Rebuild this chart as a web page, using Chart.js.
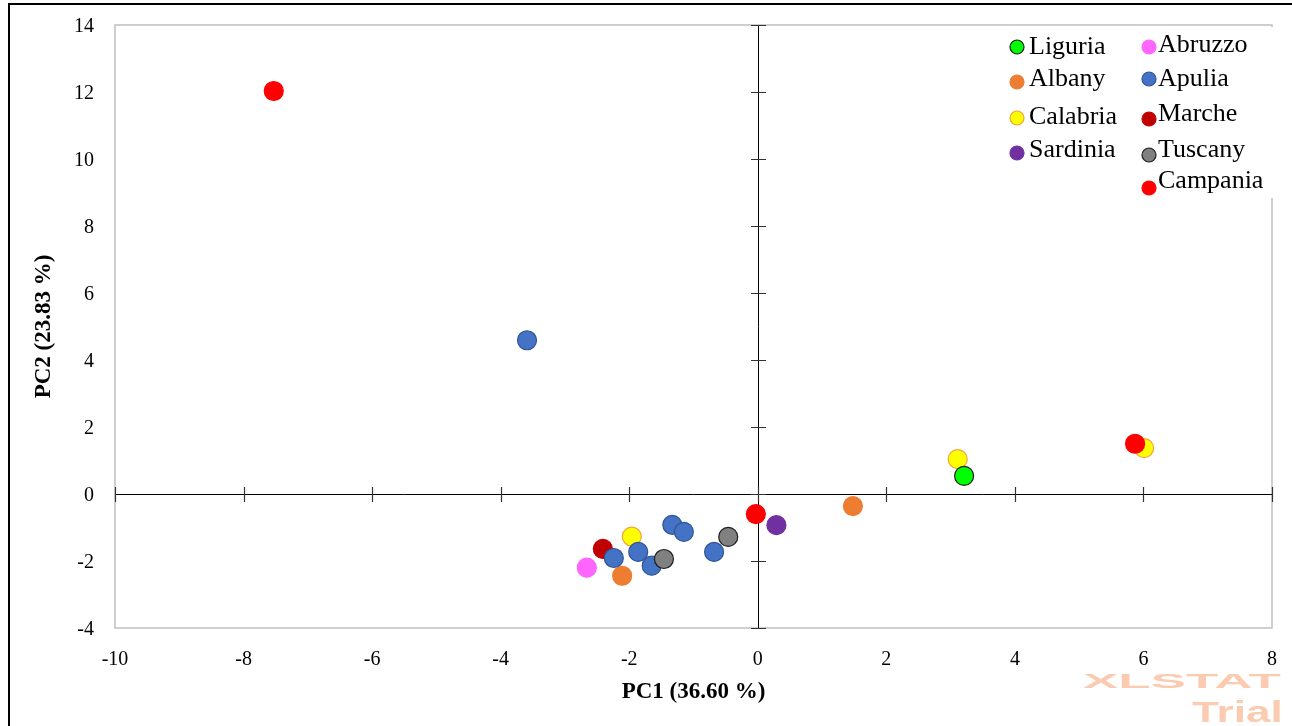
<!DOCTYPE html>
<html>
<head>
<meta charset="utf-8">
<script src="https://cdn.jsdelivr.net/npm/chart.js@4.4.1/dist/chart.umd.min.js"></script>
<style>
html,body{margin:0;padding:0;background:#fff;}
#wrap{position:relative;width:1292px;height:726px;}
</style>
</head>
<body>
<div id="wrap"><canvas id="c" width="1292" height="726"></canvas></div>
<script>
// ---- data (PC1, PC2 scores per region) ----
const liguria  = [[3.21, 0.54]];
const abruzzo  = [[-2.66, -2.20]];
const albany   = [[-2.11, -2.44], [1.48, -0.36]];
const apulia   = [[-3.59, 4.59], [-1.33, -0.92], [-1.15, -1.13], [-2.24, -1.91], [-1.86, -1.73], [-1.65, -2.14], [-0.68, -1.73]];
const calabria = [[-1.96, -1.27], [3.11, 1.04], [6.01, 1.37]];
const marche   = [[-2.41, -1.64]];
const sardinia = [[0.29, -0.93]];
const tuscany  = [[-1.46, -1.94], [-0.46, -1.28]];
const campania = [[-7.53, 12.03], [-0.03, -0.60], [5.87, 1.50]];

const xTicks = [-10, -8, -6, -4, -2, 0, 2, 4, 6, 8];
const yTicks = [-4, -2, 0, 2, 4, 6, 8, 10, 12, 14];
const xTitle = 'PC1 (36.60 %)';
const yTitle = 'PC2 (23.83 %)';

// ---- styles ----
const SERIF = "'Times New Roman', 'Liberation Serif', serif";
const series = [
  {name:'Liguria',  pts:liguria,  fill:'#00ff00', stroke:'#1e1e1e', order:6, col:0, row:0},
  {name:'Abruzzo',  pts:abruzzo,  fill:'#ff66ff', stroke:'#ff66ff', order:4, col:1, row:0},
  {name:'Albany',   pts:albany,   fill:'#ed7d31', stroke:'#ed7d31', order:8, col:0, row:1},
  {name:'Apulia',   pts:apulia,   fill:'#4472c4', stroke:'#2f5597', order:2, col:1, row:1},
  {name:'Calabria', pts:calabria, fill:'#ffff00', stroke:'#f4a13c', order:7, col:0, row:2},
  {name:'Marche',   pts:marche,   fill:'#c00000', stroke:'#c00000', order:3, col:1, row:2},
  {name:'Sardinia', pts:sardinia, fill:'#7030a0', stroke:'#7030a0', order:5, col:0, row:3},
  {name:'Tuscany',  pts:tuscany,  fill:'#808080', stroke:'#1e1e1e', order:1, col:1, row:3},
  {name:'Campania', pts:campania, fill:'#ff0000', stroke:'#ff0000', order:0, col:1, row:4}
];
const legendLayout = {
  colMarkerX:[1017, 1149], colTextX:[1029, 1158],
  markerY:[[47,82,118,153,null],[47,79,119,155,188]],
  textY:[[47,79,117,150,null],[45,79,114,150,181]]
};

const datasets = series.map(s => ({
  label: s.name,
  data: s.pts.map(p => ({x:p[0], y:p[1]})),
  backgroundColor: s.fill,
  borderColor: s.stroke,
  borderWidth: 1.2,
  pointRadius: 9.5,
  pointHoverRadius: 9.5,
  order: s.order
}));

const decor = {
  id:'decor',
  beforeDatasetsDraw(chart){
    const ctx = chart.ctx, a = chart.chartArea;
    const xs = chart.scales.x, ys = chart.scales.y;
    ctx.save();
    // plot frame
    ctx.strokeStyle = '#c3c3c3';
    ctx.lineWidth = 1.6;
    ctx.strokeRect(a.left, a.top, a.right - a.left, a.bottom - a.top);
    // axes through origin
    const x0 = Math.round(xs.getPixelForValue(0)), y0 = Math.round(ys.getPixelForValue(0));
    ctx.strokeStyle = '#000';
    ctx.lineWidth = 1;
    ctx.beginPath();
    ctx.moveTo(a.left, y0 + 0.5); ctx.lineTo(a.right, y0 + 0.5);
    ctx.moveTo(x0 + 0.5, a.top); ctx.lineTo(x0 + 0.5, a.bottom);
    ctx.stroke();
    ctx.strokeStyle = '#333';
    ctx.lineWidth = 1.2;
    ctx.beginPath();
    yTicks.forEach(v => { const y = Math.round(ys.getPixelForValue(v)) + 0.5; ctx.moveTo(x0 - 7, y); ctx.lineTo(x0 + 8, y); });
    xTicks.forEach(v => { const x = Math.round(xs.getPixelForValue(v)) + 0.5; ctx.moveTo(x, y0 - 7); ctx.lineTo(x, y0 + 8); });
    ctx.stroke();
    ctx.restore();
  },
  afterDraw(chart){
    const ctx = chart.ctx;
    ctx.save();
    // legend box
    ctx.fillStyle = '#fff';
    ctx.fillRect(998, 27, 285, 171);
    ctx.font = '26px ' + SERIF;
    ctx.textBaseline = 'middle';
    ctx.textAlign = 'left';
    series.forEach(s => {
      const mx = legendLayout.colMarkerX[s.col], my = legendLayout.markerY[s.col][s.row];
      ctx.beginPath();
      ctx.arc(mx, my, 7, 0, Math.PI * 2);
      ctx.fillStyle = s.fill; ctx.fill();
      ctx.lineWidth = 1.2; ctx.strokeStyle = s.stroke; ctx.stroke();
      ctx.fillStyle = '#000';
      ctx.fillText(s.name, legendLayout.colTextX[s.col], legendLayout.textY[s.col][s.row]);
    });
    // outer frame (left & top)
    ctx.fillStyle = '#000';
    ctx.fillRect(8, 3, 1284, 2);
    ctx.fillRect(8, 3, 2, 723);
    // watermark
    ctx.fillStyle = 'rgba(245,130,70,0.42)';
    ctx.textBaseline = 'alphabetic';
    ctx.font = 'bold 21px Arial, "Liberation Sans", sans-serif';
    ctx.save(); ctx.translate(1083, 688); ctx.scale(2.52, 1); ctx.fillText('XLSTAT', 0, 0); ctx.restore();
    ctx.font = 'bold 30px Arial, "Liberation Sans", sans-serif';
    ctx.save(); ctx.translate(1192, 722); ctx.scale(1.47, 1); ctx.fillText('Trial', 0, 0); ctx.restore();
    ctx.restore();
  }
};

new Chart(document.getElementById('c'), {
  type:'scatter',
  data:{datasets},
  plugins:[decor],
  options:{
    responsive:false,
    animation:false,
    layout:{autoPadding:false, padding:{top:25, right:20, left:0, bottom:0}},
    plugins:{legend:{display:false}, tooltip:{enabled:false}},
    scales:{
      x:{
        type:'linear', min:-10, max:8,
        afterBuildTicks(s){ s.ticks = xTicks.map(v => ({value:v})); },
        afterFit(s){ s.height = 98; s.paddingLeft = 0; s.paddingRight = 0; },
        grid:{display:false, drawTicks:false},
        border:{display:false},
        ticks:{font:{family:SERIF, size:20}, color:'#000', padding:20, maxRotation:0},
        title:{display:true, text:xTitle, color:'#000', font:{family:SERIF, size:23, weight:'bold'}, padding:{top:0, bottom:20}}
      },
      y:{
        type:'linear', min:-4, max:14,
        afterBuildTicks(s){ s.ticks = yTicks.map(v => ({value:v})); },
        afterFit(s){ s.width = 115; s.paddingTop = 0; s.paddingBottom = 0; },
        grid:{display:false, drawTicks:false},
        border:{display:false},
        ticks:{font:{family:SERIF, size:20}, color:'#000', padding:21, labelOffset:2},
        title:{display:true, text:yTitle, color:'#000', font:{family:SERIF, size:23, weight:'bold'}, padding:{top:30, bottom:0}}
      }
    }
  }
});
</script>
</body>
</html>
